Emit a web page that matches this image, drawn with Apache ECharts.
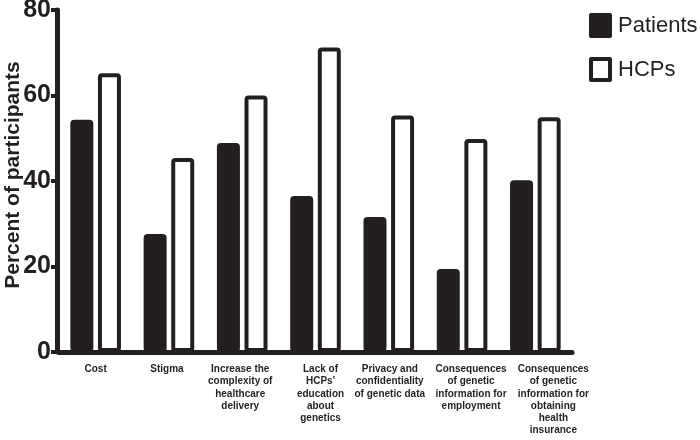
<!DOCTYPE html>
<html lang="en">
<head>
    <meta charset="UTF-8">
    <title>Barriers</title>
    <script src="https://cdn.jsdelivr.net/npm/echarts@6/dist/echarts.min.js"></script>
</head>
<body style="margin:0;background:#fff;">
<div id="chart" style="width: 700px;height: 440px;"></div>
<script type="text/javascript">
    var categories = [
        'Cost',
        'Stigma',
        'Increase the\ncomplexity of\nhealthcare\ndelivery',
        "Lack of\nHCPs'\neducation\nabout\ngenetics",
        'Privacy and\nconfidentiality\nof genetic data',
        'Consequences\nof genetic\ninformation for\nemployment',
        'Consequences\nof genetic\ninformation for\nobtaining\nhealth\ninsurance'
    ];
    var patients = [54.3, 27.6, 48.9, 36.5, 31.6, 19.4, 40.2];
    var hcps = [65.2, 45.4, 60.0, 71.2, 55.3, 49.8, 54.9];
    var yTicks = [0, 20, 40, 60, 80];
    // labels in the original sit a little right of their bars, more so at the end
    var labelShift = [0, -2, -2, 5, 1, 9, 18];

    var ink = '#231f20';
    var font = "'Liberation Sans', Arial, sans-serif";
    var chart = echarts.init(document.getElementById('chart'));

    var catData = [];
    for (var i = 0; i < categories.length; i++) {
        var s = labelShift[i];
        catData.push({
            value: categories[i],
            textStyle: {padding: s >= 0 ? [0, 0, 0, s * 2] : [0, -s * 2, 0, 0]}
        });
    }

    var option = {
        animation: false,
        textStyle: {fontFamily: font},
        grid: {left: 59, right: 128, top: 10, bottom: 88, outerBoundsMode: 'none', containLabel: false},
        legend: {
            orient: 'vertical',
            left: 584,
            top: 8,
            icon: 'rect',
            itemWidth: 19,
            itemHeight: 21,
            itemGap: 19,
            itemStyle: {borderWidth: 4, borderColor: ink, borderJoin: 'round'},
            textStyle: {fontSize: 22, color: ink, fontFamily: font, padding: [0, 0, 0, 3]},
            data: ['Patients', 'HCPs']
        },
        xAxis: {
            type: 'category',
            data: catData,
            axisLine: {lineStyle: {color: ink, width: 5, cap: 'round'}},
            axisTick: {show: false},
            axisLabel: {
                interval: 0,
                margin: 11,
                fontSize: 10,
                fontWeight: 'bold',
                fontFamily: font,
                lineHeight: 12.3,
                color: ink
            }
        },
        yAxis: {
            type: 'value',
            offset: 2,
            min: yTicks[0],
            max: yTicks[yTicks.length - 1],
            interval: 20,
            name: 'Percent of participants',
            nameLocation: 'middle',
            nameGap: 33,
            nameMoveOverlap: false,
            nameTextStyle: {fontSize: 21, fontWeight: 'bold', color: ink, fontFamily: font, padding: [0, 0, 0, 12]},
            axisLine: {show: true, lineStyle: {color: ink, width: 5, cap: 'round'}},
            axisTick: {show: true, length: 6, lineStyle: {color: ink, width: 4}},
            axisLabel: {fontSize: 25, fontWeight: 'bold', color: ink, margin: 6, fontFamily: font},
            splitLine: {show: false}
        },
        series: [
            {
                name: 'Patients',
                type: 'bar',
                data: patients,
                barWidth: 23,
                barGap: '20%',
                itemStyle: {color: ink, borderColor: ink, borderWidth: 4, borderRadius: 2}
            },
            {
                name: 'HCPs',
                type: 'bar',
                data: hcps,
                barWidth: 23,
                itemStyle: {color: '#ffffff', borderColor: ink, borderWidth: 4, borderRadius: 2}
            }
        ]
    };

    chart.setOption(option);
</script>
</body>
</html>
